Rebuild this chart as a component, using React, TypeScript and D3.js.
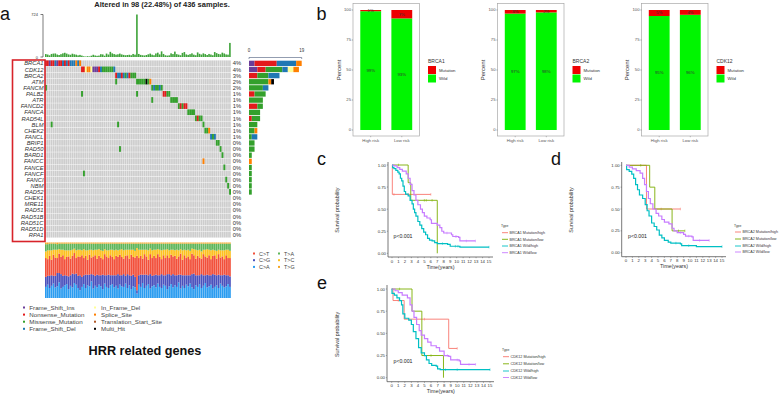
import React from "react";
import * as d3 from "d3";

const FONT = "'Liberation Sans', Arial, sans-serif";

// ---- panel a: oncoplot
const genes = ["BRCA1", "CDK12", "BRCA2", "ATM", "FANCM", "PALB2", "ATR", "FANCD2", "FANCA", "RAD54L", "BLM", "CHEK2", "FANCL", "BRIP1", "RAD50", "BARD1", "FANCC", "FANCE", "FANCF", "FANCI", "NBM", "RAD52", "CHEK1", "MRE11", "RAD51", "RAD51B", "RAD51C", "RAD51D", "RPA1"];
const genePct = ["4%", "4%", "3%", "2%", "2%", "1%", "1%", "1%", "1%", "1%", "1%", "1%", "1%", "0%", "0%", "0%", "0%", "0%", "0%", "0%", "0%", "0%", "0%", "0%", "0%", "0%", "0%", "0%", "0%"];

// gene, first sample column, one letter per mutated sample
const hits: [string, number, string][] = [
  ["BRCA1", 0, "NNINNDINNDNDNDDDSDS"],
  ["CDK12", 19, "NNFSSFIIINDMMMMMMD"],
  ["BRCA2", 37, "NDDNDMDNMMM"],
  ["ATM", 48, "MMMMMHMS"],
  ["ATM", 37, "M"],
  ["FANCM", 56, "MDMMDM"],
  ["FANCM", 0, "M"],
  ["PALB2", 62, "NNMM"],
  ["PALB2", 19, "M"],
  ["PALB2", 48, "M"],
  ["ATR", 66, "MMMM"],
  ["ATR", 56, "M"],
  ["FANCD2", 70, "MNMNN"],
  ["FANCA", 75, "MMMM"],
  ["RAD54L", 79, "MNMM"],
  ["BLM", 83, "M"],
  ["BLM", 3, "M"],
  ["BLM", 38, "M"],
  ["CHEK2", 84, "MMS"],
  ["FANCL", 87, "DMD"],
  ["BRIP1", 90, "MM"],
  ["RAD50", 92, "M"],
  ["RAD50", 39, "M"],
  ["BARD1", 93, "M"],
  ["FANCC", 83, "S"],
  ["FANCE", 94, "M"],
  ["FANCF", 20, "M"],
  ["FANCI", 95, "M"],
  ["NBM", 96, "M"],
  ["RAD52", 97, "M"],
];

const variantCodes = ["I", "N", "M", "D", "F", "S", "T", "H"];
const variantNames = ["Frame_Shift_Ins", "Nonsense_Mutation", "Missense_Mutation", "Frame_Shift_Del", "In_Frame_Del", "Splice_Site", "Translation_Start_Site", "Multi_Hit"];
const variantColors = ["#6a3d9a", "#e31a1c", "#33a02c", "#1f78b4", "#ffff99", "#ff7f00", "#b15928", "#000000"];

const sampleTmb = [50, 42, 28, 52, 58, 60, 42, 34, 48, 62, 72, 58, 44, 38, 56, 46, 40, 28, 36, 24, 12, 8, 14, 10, 22, 38, 26, 20, 24, 48, 44, 22, 58, 42, 88, 62, 50, 40, 46, 58, 44, 36, 30, 34, 38, 30, 52, 40, 724, 52, 36, 30, 26, 34, 46, 58, 40, 30, 60, 74, 44, 96, 52, 30, 24, 28, 62, 50, 92, 48, 40, 30, 70, 84, 44, 36, 48, 62, 40, 30, 78, 54, 42, 62, 50, 34, 52, 42, 30, 84, 66, 52, 46, 74, 60, 44, 40, 240];

const titvCa = [20, 24, 18, 22, 26, 19, 21, 28, 17, 20, 23, 25, 16, 22, 19, 27, 24, 18, 14, 20, 25, 18, 23, 21, 30, 17, 22, 19, 24, 21, 16, 26, 20, 18, 23, 25, 19, 22, 17, 24, 21, 20, 26, 18, 23, 16, 21, 19, 8, 24, 20, 27, 18, 22, 25, 17, 21, 23, 19, 26, 20, 18, 24, 22, 16, 21, 25, 19, 23, 20, 28, 17, 22, 18, 24, 21, 26, 19, 16, 23, 20, 25, 18, 22, 27, 19, 21, 24, 17, 20, 23, 18, 26, 22, 19, 21, 25, 20];
const titvCg = [18, 16, 22, 19, 14, 21, 24, 17, 26, 20, 18, 15, 23, 19, 25, 16, 20, 22, 27, 18, 16, 24, 19, 21, 13, 25, 18, 23, 17, 20, 26, 15, 21, 24, 18, 16, 22, 19, 26, 17, 20, 23, 14, 25, 18, 24, 21, 19, 6, 17, 22, 15, 24, 20, 16, 26, 19, 18, 23, 15, 21, 25, 17, 19, 27, 22, 16, 24, 18, 21, 14, 25, 19, 23, 17, 20, 15, 24, 28, 18, 21, 16, 25, 19, 14, 23, 20, 17, 26, 22, 18, 24, 15, 19, 23, 20, 16, 19];
const titvCt = [34, 30, 36, 28, 38, 33, 27, 35, 31, 37, 29, 34, 36, 30, 32, 38, 28, 35, 33, 39, 31, 34, 27, 36, 30, 33, 37, 29, 35, 32, 28, 38, 34, 30, 36, 33, 29, 35, 31, 37, 33, 28, 36, 34, 30, 38, 32, 35, 62, 31, 34, 29, 37, 33, 28, 36, 32, 35, 30, 38, 33, 27, 36, 31, 34, 29, 37, 32, 35, 30, 33, 38, 28, 36, 31, 34, 29, 37, 33, 30, 35, 32, 28, 38, 34, 31, 36, 29, 33, 35, 30, 37, 32, 34, 28, 36, 31, 33];
const titvTc = [12, 16, 10, 17, 9, 14, 15, 8, 13, 10, 16, 12, 11, 15, 11, 8, 14, 12, 13, 9, 16, 10, 17, 9, 14, 11, 10, 16, 12, 13, 15, 9, 11, 14, 10, 13, 16, 11, 12, 9, 14, 15, 11, 10, 16, 9, 13, 12, 14, 15, 11, 16, 8, 12, 17, 10, 14, 11, 15, 9, 13, 16, 10, 15, 11, 14, 9, 12, 10, 16, 11, 8, 17, 10, 14, 12, 15, 9, 11, 16, 10, 14, 13, 8, 12, 15, 10, 16, 11, 9, 14, 8, 13, 11, 16, 10, 15, 13];
const titvTa = [13, 11, 12, 12, 11, 11, 10, 10, 11, 11, 12, 12, 12, 12, 11, 9, 12, 11, 11, 12, 10, 12, 12, 11, 11, 12, 11, 11, 10, 12, 13, 10, 12, 12, 11, 11, 12, 11, 12, 11, 10, 12, 11, 11, 11, 11, 11, 13, 8, 11, 11, 11, 11, 11, 12, 9, 12, 11, 11, 10, 11, 12, 11, 11, 10, 12, 11, 11, 12, 11, 12, 10, 12, 11, 12, 11, 13, 9, 10, 11, 12, 11, 14, 11, 11, 10, 11, 12, 11, 12, 13, 11, 12, 12, 12, 11, 11, 13];
const titvNames = ["C>A", "C>G", "C>T", "T>C", "T>A", "T>G"];
const titvColors = ["#2b9cf0", "#4a51bd", "#f2503b", "#fdc020", "#5fb65a", "#f5a623"];

// ---- panel b: stacked percent bars
const riskGroups = ["High risk", "Low risk"];
const brca1Mut = [1, 7];
const brca2Mut = [3, 2];
const cdk12Mut = [5, 4];
const percentTicks = [0, 25, 50, 75, 100];

// ---- panels c, d, e: Kaplan-Meier curves
type Pt = [number, number];
const surv1MutHigh: Pt[] = [[0, 1], [0.05, 0.667], [6, 0.667]];
const surv1MutLow: Pt[] = [[0, 1], [2.5, 0.8], [2.9, 0.6], [7, 0]];
const surv1WildHigh: Pt[] = [[0, 1], [0.1, 0.97], [0.3, 0.96], [0.6, 0.94], [0.9, 0.92], [1.1, 0.9], [1.3, 0.85], [1.5, 0.82], [1.7, 0.76], [1.9, 0.7], [2.1, 0.67], [2.5, 0.65], [2.8, 0.6], [3.1, 0.56], [3.3, 0.5], [3.5, 0.46], [3.7, 0.42], [4, 0.36], [4.3, 0.32], [4.6, 0.28], [4.9, 0.24], [5.2, 0.21], [5.5, 0.17], [5.8, 0.15], [6.2, 0.14], [6.6, 0.12], [7, 0.11], [8.6, 0.1], [9, 0.08], [10.5, 0.07], [15, 0.07]];
const surv1WildLow: Pt[] = [[0, 1], [0.3, 0.99], [0.8, 0.97], [1.2, 0.95], [1.6, 0.93], [2.2, 0.9], [2.5, 0.85], [2.8, 0.78], [3.1, 0.71], [3.4, 0.66], [3.7, 0.6], [4, 0.55], [4.4, 0.5], [4.7, 0.46], [5, 0.42], [5.4, 0.4], [5.9, 0.38], [6.1, 0.34], [7, 0.32], [7.4, 0.29], [7.7, 0.25], [8, 0.23], [9.2, 0.21], [9.4, 0.19], [10.3, 0.18], [10.5, 0.14], [12.9, 0.14]];
const censor1: number[][] = [[0.3, 2.5, 6], [1, 5, 5.3, 6.2], [7.8, 9.8, 10.2, 15], [8.5, 9.8, 10, 11.5, 12.9]];

const surv2MutHigh: Pt[] = [[0, 1], [3.2, 0.5], [8.5, 0.5]];
const surv2MutLow: Pt[] = [[0, 1], [3.7, 0.75], [4.5, 0.5], [7.2, 0.25], [9.2, 0.25]];
const surv2WildHigh: Pt[] = [[0, 1], [0.1, 0.95], [0.5, 0.93], [0.9, 0.9], [1.2, 0.85], [1.5, 0.78], [1.8, 0.72], [2.1, 0.66], [2.6, 0.62], [3, 0.55], [3.3, 0.48], [3.6, 0.42], [4, 0.34], [4.4, 0.3], [4.8, 0.26], [5.2, 0.2], [5.6, 0.17], [6, 0.14], [6.6, 0.12], [7, 0.11], [8.5, 0.1], [8.7, 0.08], [11, 0.07], [15, 0.07]];
const surv2WildLow: Pt[] = [[0, 1], [0.5, 0.98], [1, 0.96], [1.6, 0.94], [2.2, 0.91], [2.6, 0.85], [2.9, 0.78], [3.2, 0.7], [3.5, 0.62], [3.8, 0.56], [4.2, 0.5], [4.7, 0.45], [5.1, 0.42], [5.6, 0.38], [6, 0.35], [6.7, 0.33], [7.2, 0.28], [7.5, 0.25], [8, 0.23], [9, 0.21], [9.3, 0.19], [10.3, 0.18], [10.5, 0.14], [13, 0.14]];
const censor2: number[][] = [[5.5, 8.5], [2.3, 8.2, 9.2], [7.8, 9.8, 15], [8.5, 9.8, 11.5, 13]];

const surv3MutHigh: Pt[] = [[0, 1], [0.2, 0.87], [1.9, 0.66], [8.7, 0.33], [10, 0.33]];
const surv3MutLow: Pt[] = [[0, 1], [3.1, 0.75], [4.6, 0.25], [7.9, 0]];
const surv3WildHigh: Pt[] = [[0, 1], [0.05, 0.95], [0.4, 0.93], [0.8, 0.9], [1.2, 0.87], [1.5, 0.82], [1.7, 0.72], [2, 0.67], [2.6, 0.65], [3, 0.6], [3.3, 0.52], [3.7, 0.44], [4.1, 0.34], [4.5, 0.28], [5, 0.25], [5.3, 0.2], [5.7, 0.16], [6.1, 0.14], [6.8, 0.13], [7, 0.1], [7.4, 0.09], [15, 0.09]];
const surv3WildLow: Pt[] = [[0, 1], [0.5, 0.98], [1, 0.96], [1.6, 0.93], [2.4, 0.9], [2.8, 0.82], [3.1, 0.75], [3.4, 0.68], [3.8, 0.6], [4.2, 0.53], [4.5, 0.48], [5, 0.44], [5.5, 0.4], [6, 0.36], [6.8, 0.34], [7.3, 0.3], [8, 0.25], [8.7, 0.24], [9, 0.2], [10.3, 0.19], [10.5, 0.15], [12.8, 0.15]];
const censor3: number[][] = [[1, 5, 10], [1.2, 6], [8.2, 10, 15], [8.5, 10, 11.8, 12.8]];

const survColors = ["#f8766d", "#7cae00", "#00bfc4", "#c77cff"];
const survNames = ["Mutation/high", "Mutation/low", "Wild/high", "Wild/low"];
const timeTicks = d3.range(0, 16);
const survTicks = [0, 0.25, 0.5, 0.75, 1];

const WILD_GREEN = "#00f500";
const MUT_RED = "#ee0000";

const Oncoplot = () => {
  const x = d3.scaleBand<number>().domain(d3.range(sampleTmb.length)).range([45, 231]);
  const y = d3.scaleBand<string>().domain(genes).range([60.4, 238]);
  const top = d3.scaleLinear().domain([0, 724]).range([57, 14.5]);
  const right = d3.scaleLinear().domain([0, 19]).range([249, 301.7]);

  const counts = genes.map((g) => {
    const row: Record<string, number> = {};
    hits.filter((h) => h[0] === g).forEach((h) => {
      for (const c of h[2]) row[c] = (row[c] || 0) + 1;
    });
    return row;
  });

  const titvRows = sampleTmb.map((_, i) => {
    const parts = [titvCa[i], titvCg[i], titvCt[i], titvTc[i], titvTa[i]];
    return [...parts, Math.max(0, 100 - d3.sum(parts))];
  });
  const titvY = d3.scaleLinear().domain([0, 100]).range([298, 242.5]);
  const titvStack = d3.stack<number[], number>().keys(d3.range(6)).value((d, k) => d[k])(titvRows);

  const legendCols = [
    { dot: 24, text: 29.3, items: [0, 1, 2, 3] },
    { dot: 95, text: 101, items: [4, 5, 6, 7] },
  ];
  const legendY = d3.scalePoint<number>().domain([0, 1, 2, 3]).range([307.5, 328.8]);

  const titvLegend = [
    { name: "C>T", i: 2, cx: 254, row: 0 },
    { name: "T>A", i: 4, cx: 279, row: 0 },
    { name: "C>G", i: 1, cx: 254, row: 1 },
    { name: "T>C", i: 3, cx: 279, row: 1 },
    { name: "C>A", i: 0, cx: 254, row: 2 },
    { name: "T>G", i: 5, cx: 279, row: 2 },
  ];

  return (
    <g fontFamily={FONT}>
      <text x={162} y={7} fontSize={7.5} fontWeight="bold" textAnchor="middle" fill="#222">Altered in 98 (22.48%) of 436 samples.</text>
      {/* top bar */}
      <path d={`M40.5,${top(724)}H43V${top(0)}H40.5`} fill="none" stroke="#444" strokeWidth={0.7} />
      <text x={38} y={top(724) + 1.5} fontSize={4} textAnchor="end" fill="#333">724</text>
      <text x={38} y={top(0) + 1.5} fontSize={4} textAnchor="end" fill="#333">0</text>
      {sampleTmb.map((v, i) => (
        <rect key={i} x={x(i)} y={top(v)} width={x.bandwidth() * 0.85} height={top(0) - top(v)} fill="#3fa33a" />
      ))}
      {/* matrix */}
      {genes.map((g) => x.domain().map((c) => (
        <rect key={g + c} x={x(c)} y={y(g)} width={x.bandwidth() - 0.25} height={y.bandwidth() - 0.45} fill="#cdcdcd" />
      )))}
      {hits.map((h) => [...h[2]].map((c, i) => (
        <rect key={h[0] + h[1] + i} x={x(h[1] + i)} y={y(h[0])} width={x.bandwidth()} height={y.bandwidth() - 0.45} fill={variantColors[variantCodes.indexOf(c)]} />
      )))}
      {genes.map((g, i) => (
        <g key={g} fontSize={5.8} fill="#333">
          <text x={43.5} y={y(g)! + 5} textAnchor="end" fontStyle="italic">{g}</text>
          <text x={232.7} y={y(g)! + 5}>{genePct[i]}</text>
        </g>
      ))}
      <rect x={12.5} y={60} width={32.5} height={181.5} fill="none" stroke="#d8232a" strokeWidth={1.6} />
      {/* right bars */}
      <path d={`M${right(0)},59V57.5H${right(19)}V59`} fill="none" stroke="#4a5a7a" strokeWidth={0.6} />
      <text x={right(0)} y={52} fontSize={4.5} textAnchor="middle" fill="#333">0</text>
      <text x={right(19)} y={52} fontSize={4.5} textAnchor="middle" fill="#333">19</text>
      {genes.map((g, i) => {
        let acc = 0;
        return variantCodes.map((c, k) => {
          const n = counts[i][c] || 0;
          const el = n ? <rect key={g + c} x={right(acc)} y={y(g)! + 0.3} width={right(n) - right(0)} height={y.bandwidth() - 0.8} fill={variantColors[k]} /> : null;
          acc += n;
          return el;
        });
      })}
      {/* titv stack */}
      {titvStack.map((layer, k) => layer.map((d, i) => (
        <rect key={k + "-" + i} x={x(i)} y={titvY(d[1])} width={x.bandwidth() - 0.2} height={titvY(d[0]) - titvY(d[1])} fill={titvColors[k]} />
      )))}
      {titvLegend.map((d) => (
        <g key={d.name} fontSize={5.4} fill="#444">
          <rect x={d.cx - 1} y={252.5 + d.row * 6.7} width={2} height={2} fill={titvColors[d.i]} />
          <text x={d.cx + 5} y={255.6 + d.row * 6.7}>{titvNames[d.i]}</text>
        </g>
      ))}
      {/* variant legend */}
      {legendCols.map((col) => col.items.map((v, r) => (
        <g key={v} fontSize={6.2} fill="#444">
          <rect x={col.dot - 1} y={legendY(r)! - 1} width={2} height={2} fill={variantColors[v]} />
          <text x={col.text} y={legendY(r)! + 2.1}>{variantNames[v]}</text>
        </g>
      )))}
      <text x={145} y={354.5} fontSize={12.7} fontWeight="bold" textAnchor="middle" fill="#111">HRR related genes</text>
    </g>
  );
};

const PercentBars = ({ left, gene, mut }: { left: number; gene: string; mut: number[] }) => {
  const y = d3.scaleLinear().domain([0, 100]).range([130, 10]);
  const x = d3.scaleBand<string>().domain(riskGroups).range([left + 2, left + 64.5]).paddingInner(0.33).paddingOuter(0.17);
  const bw = x.bandwidth();
  return (
    <g fontFamily={FONT}>
      <text transform={`translate(${left - 12.5},70) rotate(-90)`} fontSize={6} textAnchor="middle" fill="#333">Percent</text>
      {riskGroups.map((r, i) => (
        <g key={r}>
          <rect x={x(r)} y={y(100 - mut[i])} width={bw} height={y(0) - y(100 - mut[i])} fill={WILD_GREEN} />
          <rect x={x(r)} y={y(100)} width={bw} height={y(100 - mut[i]) - y(100)} fill={MUT_RED} />
          <text x={x(r)! + bw / 2} y={y(100 - mut[i] / 2) + 1.4} fontSize={4.3} textAnchor="middle" fill="#333">{mut[i]}%</text>
          <text x={x(r)! + bw / 2} y={y((100 - mut[i]) / 2) + 1.4} fontSize={4.3} textAnchor="middle" fill="#333">{100 - mut[i]}%</text>
          <text x={x(r)! + bw / 2} y={142} fontSize={4.3} textAnchor="middle" fill="#555">{r}</text>
          <line x1={x(r)! + bw / 2} x2={x(r)! + bw / 2} y1={136} y2={137.2} stroke="#444" strokeWidth={0.4} />
        </g>
      ))}
      <rect x={left} y={3.5} width={66.5} height={132.5} fill="none" stroke="#a8a8a8" strokeWidth={0.7} />
      {percentTicks.map((t) => (
        <g key={t}>
          <line x1={left - 1.2} x2={left} y1={y(t)} y2={y(t)} stroke="#444" strokeWidth={0.4} />
          <text x={left - 2} y={y(t) + 1.4} fontSize={4.2} textAnchor="end" fill="#555">{t}</text>
        </g>
      ))}
      <text x={left + 75} y={62.5} fontSize={5} fill="#333">{gene}</text>
      <rect x={left + 75} y={66} width={8} height={8} fill={MUT_RED} />
      <rect x={left + 75} y={74.5} width={8} height={8} fill={WILD_GREEN} />
      <text x={left + 86} y={71.5} fontSize={4.3} fill="#333">Mutation</text>
      <text x={left + 86} y={80} fontSize={4.3} fill="#333">Wild</text>
    </g>
  );
};

type SurvProps = {
  axisX: number; x0: number; x15: number; y1: number; y0: number; bottom: number; axisTop: number;
  ylabelX: number; pX: number; legendX: number; legendY: number[];
  gene: string; curves: Pt[][]; censors: number[][];
};

const SurvPanel = ({ axisX, x0, x15, y1, y0, bottom, axisTop, ylabelX, pX, legendX, legendY, gene, curves, censors }: SurvProps) => {
  const x = d3.scaleLinear().domain([0, 15]).range([x0, x15]);
  const y = d3.scaleLinear().domain([0, 1]).range([y0, y1]);
  const line = d3.line<Pt>().x((d) => x(d[0])).y((d) => y(d[1])).curve(d3.curveStepAfter);
  const bisect = d3.bisector((d: Pt) => d[0]).right;
  return (
    <g fontFamily={FONT}>
      <text transform={`translate(${ylabelX},${(y0 + y1) / 2 + 1}) rotate(-90)`} fontSize={5.4} textAnchor="middle" fill="#333">Survival probability</text>
      {curves.map((c, i) => (
        <g key={i} stroke={survColors[i]} fill="none">
          <path d={line(c) || ""} strokeWidth={i > 1 ? 1.2 : 0.9} />
          {censors[i].map((t) => {
            const v = c[Math.max(0, bisect(c, t) - 1)][1];
            return <path key={t} d={`M${x(t)},${y(v) - 1.3}V${y(v) + 1.3}`} strokeWidth={0.5} />;
          })}
        </g>
      ))}
      <path d={`M${axisX},${axisTop}V${bottom}H${x15 + 4}`} fill="none" stroke="#555" strokeWidth={0.8} />
      {timeTicks.map((t) => (
        <g key={t}>
          <line x1={x(t)} x2={x(t)} y1={bottom} y2={bottom + 1.2} stroke="#444" strokeWidth={0.4} />
          <text x={x(t)} y={bottom + 5.5} fontSize={4.3} textAnchor="middle" fill="#333">{t}</text>
        </g>
      ))}
      {survTicks.map((t) => (
        <g key={t}>
          <line x1={axisX - 1.2} x2={axisX} y1={y(t)} y2={y(t)} stroke="#444" strokeWidth={0.4} />
          <text x={axisX - 2} y={y(t) + 1.5} fontSize={4.3} textAnchor="end" fill="#333">{t.toFixed(2)}</text>
        </g>
      ))}
      <text x={(x0 + x15) / 2} y={bottom + 11.5} fontSize={5.3} textAnchor="middle" fill="#333">Time(years)</text>
      <text x={pX} y={y0 - 15} fontSize={5.2} fill="#222">p&lt;0.001</text>
      <text x={legendX} y={legendY[0] - 5.5} fontSize={3.4} fill="#333">Type</text>
      {survNames.map((n, i) => (
        <g key={n}>
          <line x1={legendX + 1} x2={legendX + 7} y1={legendY[i]} y2={legendY[i]} stroke={survColors[i]} strokeWidth={0.9} />
          <text x={legendX + 8.5} y={legendY[i] + 1.2} fontSize={3.7} fill="#333">{gene} {n}</text>
        </g>
      ))}
    </g>
  );
};

export default function App() {
  return (
    <svg width={780} height={395} style={{ position: "fixed", left: 0, top: 0, background: "#fff" }}>
      <g fontFamily={FONT} fontSize={18} fill="#111">
        <text x={0} y={20}>a</text>
        <text x={316.5} y={20}>b</text>
        <text x={317} y={164.5}>c</text>
        <text x={551} y={164.5}>d</text>
        <text x={317} y={289}>e</text>
      </g>
      <Oncoplot />
      <PercentBars left={353} gene="BRCA1" mut={brca1Mut} />
      <PercentBars left={497.5} gene="BRCA2" mut={brca2Mut} />
      <PercentBars left={641.5} gene="CDK12" mut={cdk12Mut} />
      <SurvPanel axisX={388} x0={392} x15={489} y1={165} y0={253.3} bottom={257} axisTop={162} ylabelX={339} pX={393.5} legendX={501} legendY={[232.7, 239.3, 246, 252.7]} gene="BRCA1" curves={[surv1MutHigh, surv1MutLow, surv1WildHigh, surv1WildLow]} censors={censor1} />
      <SurvPanel axisX={621.7} x0={626} x15={722} y1={165.3} y0={252.7} bottom={256.7} axisTop={162} ylabelX={573} pX={628} legendX={734} legendY={[232, 239, 246, 252]} gene="BRCA2" curves={[surv2MutHigh, surv2MutLow, surv2WildHigh, surv2WildLow]} censors={censor2} />
      <SurvPanel axisX={387} x0={391.7} x15={490} y1={289} y0={377.7} bottom={381.7} axisTop={285} ylabelX={339} pX={393.5} legendX={502} legendY={[356.7, 363.8, 371, 377.5]} gene="CDK12" curves={[surv3MutHigh, surv3MutLow, surv3WildHigh, surv3WildLow]} censors={censor3} />
    </svg>
  );
}
